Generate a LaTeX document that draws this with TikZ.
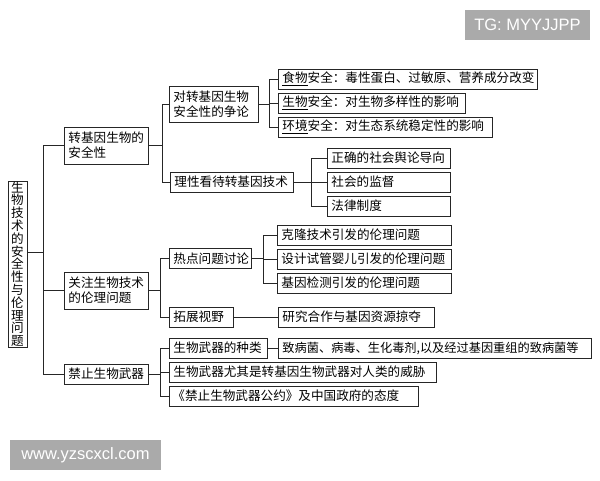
\documentclass[tikz,border=0pt]{standalone}
\usepackage{fontspec}
\setmainfont{Noto Sans CJK SC}
\newfontfamily\wmfont{Liberation Sans}
\definecolor{wmgray}{RGB}{170,170,170}
\begin{document}
\begin{tikzpicture}[x=1pt,y=-1pt]
	\tikzstyle{r} = [draw=black!85, line width=0.9pt, shape=rectangle, anchor=west, align=left,
		inner xsep=4pt, inner ysep=0pt, minimum height=20pt, font=\fontsize{12.6}{15}\selectfont]
	\tikzstyle{v} = [draw=black!85, line width=0.9pt, shape=rectangle, align=center, inner sep=0pt,
		minimum width=19pt, minimum height=166pt, text width=13pt, font=\fontsize{12.6}{12.8}\selectfont]
	\tikzstyle{link} = [draw=black!85, line width=0.9pt]
	\tikzstyle{w} = [fill=wmgray, text=white, inner sep=0pt, font=\wmfont\fontsize{16.5}{16.5}\selectfont]
	\useasboundingbox (0,0) rectangle (600,480);
	% watermarks
	\node[w, minimum width=125pt, minimum height=30pt] (tg) at (527.5,25) {TG: MYYJJPP};
	\node[w, minimum width=151pt, minimum height=30pt] (www) at (85.5,455) {www.yzscxcl.com};
	% root
	\node[v] (root) at (17.5,264) {生\\物\\技\\术\\的\\安\\全\\性\\与\\伦\\理\\问\\题};
	% level 1
	\node[r, text width=76pt, minimum height=37pt] (safe) at (64,145.5) {转基因生物的\\安全性};
	\node[r, text width=76pt, minimum height=37pt] (ethic) at (64,290.5) {关注生物技术\\的伦理问题};
	\node[r, text width=76pt] (ban) at (64,374) {禁止生物武器};
	% level 2
	\node[r, text width=81pt, minimum height=36pt] (debate) at (169,104) {对转基因生物\\安全性的争论};
	\node[r, text width=115pt] (rational) at (170,182) {理性看待转基因技术};
	\node[r, text width=74pt] (hot) at (169,258.5) {热点问题讨论};
	\node[r, text width=56pt] (view) at (169,317) {拓展视野};
	\node[r, text width=90pt] (kind) at (169,348) {生物武器的种类};
	\node[r, text width=259pt] (threat) at (169,372) {生物武器尤其是转基因生物武器对人类的威胁};
	\node[r, text width=243pt, inner xsep=3pt] (treaty) at (169,396) {《禁止生物武器公约》及中国政府的态度};
	% level 3
	\node[r, text width=251pt] (food) at (278,79) {\underline{食物}安全：毒性蛋白、过敏原、营养成分改变};
	\node[r, text width=179pt] (bio) at (278,103) {\underline{生物}安全：对生物多样性的影响};
	\node[r, text width=206pt] (env) at (278,127) {\underline{环境}安全：对生态系统稳定性的影响};
	\node[r, text width=115pt] (opinion) at (327,158) {正确的社会舆论导向};
	\node[r, text width=115pt] (watch) at (327,182) {社会的监督};
	\node[r, text width=115pt] (law) at (327,206) {法律制度};
	\node[r, text width=166pt] (clone) at (277,235) {克隆技术引发的伦理问题};
	\node[r, text width=166pt] (baby) at (277,259) {设计试管婴儿引发的伦理问题};
	\node[r, text width=166pt] (test) at (277,283) {基因检测引发的伦理问题};
	\node[r, text width=148pt] (research) at (278,317) {研究合作与基因资源掠夺};
	\node[r, text width=305pt, font=\fontsize{12.2}{15}\selectfont] (germ) at (278,348) {致病菌、病毒、生化毒剂,以及经过基因重组的致病菌等};
	% connectors
	\draw[link] ([yshift=12pt]root.east) -- ++(16,0) coordinate (r0);
	\draw[link] (r0) |- (safe.west);
	\draw[link] (r0) |- (ethic.west);
	\draw[link] (r0) |- (ban.west);
	\draw[link] (safe.east) -- ++(14,0) coordinate (s0);
	\draw[link] (s0) |- (debate.west);
	\draw[link] (s0) |- (rational.west);
	\draw[link] (ethic.east) -- ++(12,0) coordinate (e0);
	\draw[link] (e0) |- (hot.west);
	\draw[link] (e0) |- (view.west);
	\draw[link] (ban.east) -- ++(12,0) coordinate (b0);
	\draw[link] (b0) |- (kind.west);
	\draw[link] (b0) |- (threat.west);
	\draw[link] (b0) |- (treaty.west);
	\draw[link] (debate.east) -- ++(11,0) coordinate (d0);
	\draw[link] (d0) |- (food.west);
	\draw[link] (d0) |- (bio.west);
	\draw[link] (d0) |- (env.west);
	\draw[link] (rational.east) -- ++(18,0) coordinate (t0);
	\draw[link] (t0) |- (opinion.west);
	\draw[link] (t0) |- (watch.west);
	\draw[link] (t0) |- (law.west);
	\draw[link] (hot.east) -- ++(12,0) coordinate (h0);
	\draw[link] (h0) |- (clone.west);
	\draw[link] (h0) |- (baby.west);
	\draw[link] (h0) |- (test.west);
	\draw[link] (view.east) -- (research.west);
	\draw[link] (kind.east) -- (germ.west);
\end{tikzpicture}
\end{document}
